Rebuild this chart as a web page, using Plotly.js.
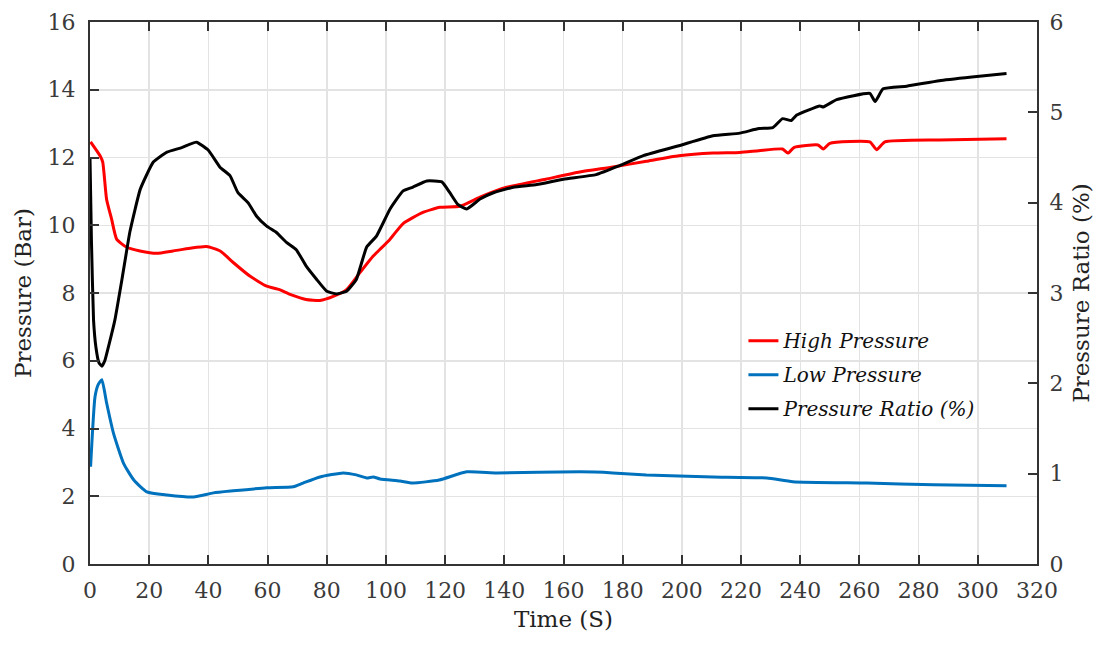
<!DOCTYPE html>
<html>
<head>
<meta charset="utf-8">
<script src="https://cdn.plot.ly/plotly-3.0.1.min.js"></script>
<style>html,body{margin:0;padding:0;background:#fff;}#chart{width:1114px;height:649px;}</style>
</head>
<body>
<div id="chart"></div>
<script>
// High pressure (Bar)
const hpTime = [0.2,3.4,4.3,5.6,7.3,9,12.4,16.9,22.5,28,33.8,39.4,44,48.4,54,59.7,64,67.6,73,77.7,82.2,86.7,91.2,95.7,98,101.4,105.8,112.5,118.2,125,131.8,140.8,154,165.5,176.7,188,199,210.5,219.6,226,234,235.8,238,246,247.8,250,263.5,265.8,268.6,287,309.7];
const hpValues = [12.46,12.05,11.86,10.77,10.18,9.59,9.35,9.24,9.17,9.24,9.32,9.37,9.24,8.9,8.5,8.2,8.1,7.96,7.81,7.78,7.9,8.1,8.6,9.09,9.29,9.59,10.05,10.38,10.53,10.56,10.83,11.12,11.36,11.57,11.72,11.89,12.05,12.13,12.15,12.2,12.25,12.13,12.3,12.37,12.25,12.42,12.46,12.23,12.46,12.52,12.55];

// Low pressure (Bar)
const lpTime = [0.2,1.7,2.8,4,5.6,7.9,11.3,14.8,19.2,26,35,41.7,48.4,59.7,68.7,72,77.7,85.6,90,93.5,95.7,98,104.7,109,118,127.3,137.5,165.5,176.7,188,199,210.5,228.7,237.5,262.5,285,309.7];
const lpValues = [2.87,4.94,5.3,5.44,4.76,3.87,2.98,2.48,2.13,2.04,1.98,2.1,2.16,2.25,2.28,2.39,2.57,2.69,2.63,2.54,2.57,2.51,2.45,2.39,2.48,2.72,2.69,2.72,2.69,2.63,2.6,2.57,2.54,2.43,2.39,2.34,2.31];

// Pressure ratio (%)
const prTime = [0,0.5,1.2,2,3,4,5,6.5,8.4,11,13.5,17,21.4,26,31,36,40,44,47.3,50,53.4,56.3,59.7,63,66.4,69.7,73,76.6,80,83.3,86.7,90,93.5,96.8,101.4,105.8,109,113.8,118.9,121.6,124.3,127.3,131.8,136.3,143,151,160,171,179,187,199,210.5,219.6,226,230.7,234,237,238.8,246.6,247.8,252.3,263.5,265.3,268,276,287,298,309.7];
const prValues = [4.50,3.56,2.70,2.40,2.23,2.19,2.25,2.44,2.70,3.19,3.68,4.15,4.45,4.56,4.61,4.67,4.58,4.39,4.30,4.11,4.00,3.85,3.74,3.67,3.56,3.48,3.30,3.15,3.02,2.99,3.02,3.15,3.51,3.63,3.93,4.13,4.17,4.24,4.23,4.11,3.98,3.93,4.04,4.11,4.17,4.20,4.26,4.31,4.41,4.52,4.63,4.74,4.77,4.82,4.83,4.93,4.91,4.97,5.07,5.06,5.14,5.21,5.12,5.26,5.29,5.35,5.39,5.43];

const xTicks = [0,20,40,60,80,100,120,140,160,180,200,220,240,260,280,300,320];

const serif = 'DejaVu Serif';
const tickFont = {family: serif, size: 22, color: '#3a3a3a'};
const titleFont = {family: serif, size: 23, color: '#222'};

const traces = [
  {x: hpTime, y: hpValues, name: 'High Pressure', legendgroup: 'hp', mode: 'lines', line: {color: '#ff0000', width: 3, shape: 'spline', smoothing: 0.5}, yaxis: 'y'},
  {x: lpTime, y: lpValues, name: 'Low Pressure', legendgroup: 'lp', mode: 'lines', line: {color: '#0072bd', width: 3, shape: 'spline', smoothing: 0.5}, yaxis: 'y'},
  {x: prTime, y: prValues, name: 'Pressure Ratio (%)', legendgroup: 'pr', mode: 'lines', line: {color: '#000000', width: 3, shape: 'spline', smoothing: 0.4}, yaxis: 'y2'}
];

const layout = {
  width: 1114, height: 649,
  margin: {l: 90, r: 77, t: 22, b: 85},
  paper_bgcolor: '#fff', plot_bgcolor: '#fff',
  font: {family: serif},
  showlegend: true,
  legend: {
    x: 0.69, y: 0.448, xanchor: 'left', yanchor: 'top',
    bgcolor: 'rgba(0,0,0,0)',
    font: {family: serif, size: 20, color: '#111', style: 'italic'},
    tracegroupgap: 5
  },
  xaxis: {
    range: [0, 320], tickvals: xTicks, ticktext: xTicks.map(String),
    ticks: 'inside', ticklen: 9, tickwidth: 2, tickcolor: '#333',
    showline: true, linecolor: '#333', linewidth: 2, mirror: 'ticks',
    showgrid: true, gridcolor: '#e3e3e3', gridwidth: 1.5, zeroline: false,
    tickfont: tickFont, ticklabelstandoff: 6,
    title: {text: 'Time (S)', font: titleFont, standoff: 8}
  },
  yaxis: {
    range: [0, 16], dtick: 2, tick0: 0,
    ticks: 'inside', ticklen: 9, tickwidth: 2, tickcolor: '#333',
    showline: true, linecolor: '#333', linewidth: 2, mirror: false,
    showgrid: true, gridcolor: '#e3e3e3', gridwidth: 1.5, zeroline: false,
    tickfont: tickFont, ticklabelstandoff: 8,
    title: {text: 'Pressure (Bar)', font: titleFont, standoff: 10}
  },
  yaxis2: {
    range: [0, 6], dtick: 1, tick0: 0, overlaying: 'y', side: 'right',
    ticks: 'inside', ticklen: 9, tickwidth: 2, tickcolor: '#333',
    showline: true, linecolor: '#333', linewidth: 2,
    showgrid: false, zeroline: false,
    tickfont: tickFont, ticklabelstandoff: 6,
    title: {text: 'Pressure Ratio (%)', font: titleFont, standoff: 10}
  }
};

Plotly.newPlot('chart', traces, layout, {displayModeBar: false, staticPlot: true});
</script>
</body>
</html>
